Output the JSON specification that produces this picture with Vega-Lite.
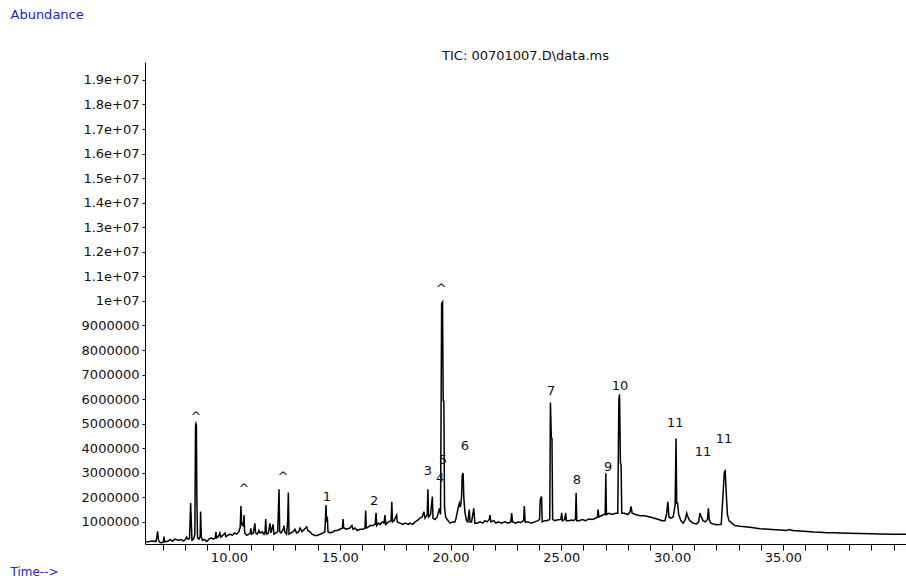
{
  "$schema": "https://vega.github.io/schema/vega-lite/v6.json",
  "width": 761,
  "height": 482,
  "autosize": {"type": "none"},
  "padding": {"left": 145, "top": 62, "right": 0, "bottom": 35},
  "background": "white",
  "config": {"view": {"stroke": null}, "font": "DejaVu Sans"},
  "title": {"text": "TIC: 00701007.D\\data.ms", "anchor": "middle", "frame": "group", "offset": 3, "dy": 58, "fontSize": 13, "fontWeight": "normal", "color": "#111", "font": "DejaVu Sans"},
  "datasets": {
    "tic": [
      {"time": 6.21, "abundance": 180000}, {"time": 6.40, "abundance": 200000}, {"time": 6.55, "abundance": 220000}, {"time": 6.70, "abundance": 200000},
      {"time": 6.74, "abundance": 350000}, {"time": 6.78, "abundance": 620000}, {"time": 6.82, "abundance": 250000}, {"time": 6.90, "abundance": 150000},
      {"time": 7.00, "abundance": 160000}, {"time": 7.04, "abundance": 200000}, {"time": 7.07, "abundance": 400000}, {"time": 7.10, "abundance": 180000},
      {"time": 7.25, "abundance": 220000}, {"time": 7.35, "abundance": 280000}, {"time": 7.45, "abundance": 220000}, {"time": 7.56, "abundance": 300000},
      {"time": 7.70, "abundance": 250000}, {"time": 7.85, "abundance": 280000}, {"time": 7.95, "abundance": 220000}, {"time": 8.05, "abundance": 300000},
      {"time": 8.09, "abundance": 380000}, {"time": 8.15, "abundance": 300000}, {"time": 8.22, "abundance": 320000}, {"time": 8.25, "abundance": 1200000},
      {"time": 8.27, "abundance": 1770000}, {"time": 8.30, "abundance": 1000000}, {"time": 8.33, "abundance": 250000}, {"time": 8.40, "abundance": 300000},
      {"time": 8.46, "abundance": 500000}, {"time": 8.49, "abundance": 4900000}, {"time": 8.51, "abundance": 5000000}, {"time": 8.53, "abundance": 4950000},
      {"time": 8.55, "abundance": 2000000}, {"time": 8.58, "abundance": 350000}, {"time": 8.65, "abundance": 300000}, {"time": 8.70, "abundance": 400000},
      {"time": 8.72, "abundance": 1420000}, {"time": 8.75, "abundance": 400000}, {"time": 8.80, "abundance": 250000}, {"time": 8.90, "abundance": 280000},
      {"time": 9.00, "abundance": 200000}, {"time": 9.10, "abundance": 300000}, {"time": 9.20, "abundance": 350000}, {"time": 9.30, "abundance": 300000},
      {"time": 9.38, "abundance": 350000}, {"time": 9.41, "abundance": 600000}, {"time": 9.44, "abundance": 350000}, {"time": 9.52, "abundance": 400000},
      {"time": 9.59, "abundance": 550000}, {"time": 9.63, "abundance": 380000}, {"time": 9.72, "abundance": 450000}, {"time": 9.82, "abundance": 550000},
      {"time": 9.86, "abundance": 400000}, {"time": 9.95, "abundance": 450000}, {"time": 10.05, "abundance": 500000}, {"time": 10.15, "abundance": 450000},
      {"time": 10.25, "abundance": 550000}, {"time": 10.35, "abundance": 500000}, {"time": 10.45, "abundance": 600000}, {"time": 10.51, "abundance": 800000},
      {"time": 10.54, "abundance": 1650000}, {"time": 10.57, "abundance": 900000}, {"time": 10.62, "abundance": 940000}, {"time": 10.65, "abundance": 800000},
      {"time": 10.68, "abundance": 1280000}, {"time": 10.71, "abundance": 550000}, {"time": 10.80, "abundance": 450000}, {"time": 10.90, "abundance": 500000},
      {"time": 10.96, "abundance": 550000}, {"time": 10.99, "abundance": 740000}, {"time": 11.02, "abundance": 500000}, {"time": 11.10, "abundance": 550000},
      {"time": 11.17, "abundance": 940000}, {"time": 11.20, "abundance": 550000}, {"time": 11.28, "abundance": 500000}, {"time": 11.35, "abundance": 650000},
      {"time": 11.40, "abundance": 550000}, {"time": 11.50, "abundance": 600000}, {"time": 11.58, "abundance": 500000}, {"time": 11.63, "abundance": 600000},
      {"time": 11.66, "abundance": 1120000}, {"time": 11.69, "abundance": 500000}, {"time": 11.78, "abundance": 550000}, {"time": 11.85, "abundance": 940000},
      {"time": 11.90, "abundance": 550000}, {"time": 11.99, "abundance": 900000}, {"time": 12.03, "abundance": 500000}, {"time": 12.12, "abundance": 550000},
      {"time": 12.20, "abundance": 600000}, {"time": 12.26, "abundance": 2330000}, {"time": 12.29, "abundance": 600000}, {"time": 12.35, "abundance": 550000},
      {"time": 12.45, "abundance": 700000}, {"time": 12.48, "abundance": 850000}, {"time": 12.52, "abundance": 600000}, {"time": 12.60, "abundance": 500000},
      {"time": 12.65, "abundance": 1000000}, {"time": 12.68, "abundance": 2200000}, {"time": 12.71, "abundance": 500000}, {"time": 12.80, "abundance": 550000},
      {"time": 12.90, "abundance": 600000}, {"time": 12.98, "abundance": 700000}, {"time": 13.05, "abundance": 550000}, {"time": 13.15, "abundance": 600000},
      {"time": 13.21, "abundance": 750000}, {"time": 13.30, "abundance": 600000}, {"time": 13.40, "abundance": 700000}, {"time": 13.51, "abundance": 800000},
      {"time": 13.56, "abundance": 650000}, {"time": 13.66, "abundance": 600000}, {"time": 13.75, "abundance": 500000}, {"time": 13.88, "abundance": 450000},
      {"time": 14.00, "abundance": 450000}, {"time": 14.11, "abundance": 500000}, {"time": 14.25, "abundance": 550000}, {"time": 14.33, "abundance": 600000},
      {"time": 14.38, "abundance": 1690000}, {"time": 14.41, "abundance": 1000000}, {"time": 14.44, "abundance": 1210000}, {"time": 14.47, "abundance": 600000},
      {"time": 14.56, "abundance": 550000}, {"time": 14.70, "abundance": 600000}, {"time": 14.79, "abundance": 650000}, {"time": 14.90, "abundance": 650000},
      {"time": 15.01, "abundance": 700000}, {"time": 15.12, "abundance": 750000}, {"time": 15.15, "abundance": 1120000}, {"time": 15.18, "abundance": 750000},
      {"time": 15.30, "abundance": 700000}, {"time": 15.46, "abundance": 750000}, {"time": 15.55, "abundance": 850000}, {"time": 15.60, "abundance": 700000},
      {"time": 15.69, "abundance": 750000}, {"time": 15.80, "abundance": 650000}, {"time": 15.91, "abundance": 700000}, {"time": 16.05, "abundance": 700000},
      {"time": 16.14, "abundance": 750000}, {"time": 16.17, "abundance": 1460000}, {"time": 16.20, "abundance": 750000}, {"time": 16.30, "abundance": 800000},
      {"time": 16.37, "abundance": 850000}, {"time": 16.50, "abundance": 850000}, {"time": 16.60, "abundance": 900000}, {"time": 16.64, "abundance": 1370000},
      {"time": 16.67, "abundance": 850000}, {"time": 16.75, "abundance": 950000}, {"time": 16.82, "abundance": 900000}, {"time": 16.92, "abundance": 1000000},
      {"time": 17.00, "abundance": 950000}, {"time": 17.04, "abundance": 1280000}, {"time": 17.08, "abundance": 900000}, {"time": 17.20, "abundance": 1000000},
      {"time": 17.32, "abundance": 1050000}, {"time": 17.35, "abundance": 1820000}, {"time": 17.38, "abundance": 1000000}, {"time": 17.45, "abundance": 1050000},
      {"time": 17.57, "abundance": 1280000}, {"time": 17.60, "abundance": 1000000}, {"time": 17.72, "abundance": 950000}, {"time": 17.85, "abundance": 900000},
      {"time": 17.95, "abundance": 950000}, {"time": 18.10, "abundance": 900000}, {"time": 18.17, "abundance": 950000}, {"time": 18.30, "abundance": 900000},
      {"time": 18.40, "abundance": 1000000}, {"time": 18.50, "abundance": 1050000}, {"time": 18.62, "abundance": 1150000}, {"time": 18.72, "abundance": 1200000},
      {"time": 18.80, "abundance": 1410000}, {"time": 18.85, "abundance": 1150000}, {"time": 18.95, "abundance": 1300000}, {"time": 18.98, "abundance": 2330000},
      {"time": 19.01, "abundance": 1200000}, {"time": 19.10, "abundance": 1300000}, {"time": 19.18, "abundance": 2030000}, {"time": 19.21, "abundance": 1150000},
      {"time": 19.30, "abundance": 1100000}, {"time": 19.40, "abundance": 1200000}, {"time": 19.50, "abundance": 1550000}, {"time": 19.55, "abundance": 1300000},
      {"time": 19.60, "abundance": 9900000}, {"time": 19.64, "abundance": 9960000}, {"time": 19.67, "abundance": 5950000}, {"time": 19.70, "abundance": 5900000},
      {"time": 19.73, "abundance": 1600000}, {"time": 19.78, "abundance": 1200000}, {"time": 19.85, "abundance": 1100000}, {"time": 19.98, "abundance": 950000},
      {"time": 20.10, "abundance": 1000000}, {"time": 20.20, "abundance": 1000000}, {"time": 20.25, "abundance": 1150000}, {"time": 20.34, "abundance": 1550000},
      {"time": 20.40, "abundance": 1760000}, {"time": 20.45, "abundance": 1600000}, {"time": 20.50, "abundance": 2030000}, {"time": 20.53, "abundance": 2900000},
      {"time": 20.57, "abundance": 2990000}, {"time": 20.60, "abundance": 2000000}, {"time": 20.65, "abundance": 1400000}, {"time": 20.72, "abundance": 1050000},
      {"time": 20.78, "abundance": 1000000}, {"time": 20.85, "abundance": 1500000}, {"time": 20.88, "abundance": 1000000}, {"time": 20.95, "abundance": 1000000},
      {"time": 21.05, "abundance": 1550000}, {"time": 21.10, "abundance": 950000}, {"time": 21.20, "abundance": 950000}, {"time": 21.33, "abundance": 1000000},
      {"time": 21.45, "abundance": 950000}, {"time": 21.55, "abundance": 1050000}, {"time": 21.65, "abundance": 1000000}, {"time": 21.75, "abundance": 1100000},
      {"time": 21.78, "abundance": 1280000}, {"time": 21.82, "abundance": 1000000}, {"time": 21.95, "abundance": 1050000}, {"time": 22.05, "abundance": 950000},
      {"time": 22.15, "abundance": 1000000}, {"time": 22.30, "abundance": 950000}, {"time": 22.45, "abundance": 1000000}, {"time": 22.60, "abundance": 950000},
      {"time": 22.72, "abundance": 1000000}, {"time": 22.76, "abundance": 1360000}, {"time": 22.80, "abundance": 1000000}, {"time": 22.95, "abundance": 950000},
      {"time": 23.05, "abundance": 1000000}, {"time": 23.15, "abundance": 970000}, {"time": 23.30, "abundance": 1050000}, {"time": 23.33, "abundance": 1650000},
      {"time": 23.37, "abundance": 1000000}, {"time": 23.50, "abundance": 1000000}, {"time": 23.65, "abundance": 950000}, {"time": 23.80, "abundance": 1000000},
      {"time": 23.95, "abundance": 1050000}, {"time": 24.02, "abundance": 1100000}, {"time": 24.05, "abundance": 1900000}, {"time": 24.11, "abundance": 2030000},
      {"time": 24.14, "abundance": 1000000}, {"time": 24.25, "abundance": 1050000}, {"time": 24.35, "abundance": 1050000}, {"time": 24.48, "abundance": 1100000},
      {"time": 24.51, "abundance": 5860000}, {"time": 24.55, "abundance": 4450000}, {"time": 24.58, "abundance": 4400000}, {"time": 24.61, "abundance": 1100000},
      {"time": 24.70, "abundance": 1050000}, {"time": 24.80, "abundance": 1080000}, {"time": 24.98, "abundance": 1100000}, {"time": 25.02, "abundance": 1370000},
      {"time": 25.05, "abundance": 1050000}, {"time": 25.15, "abundance": 1100000}, {"time": 25.20, "abundance": 1370000}, {"time": 25.23, "abundance": 1050000},
      {"time": 25.35, "abundance": 1050000}, {"time": 25.45, "abundance": 1080000}, {"time": 25.55, "abundance": 1050000}, {"time": 25.64, "abundance": 1100000},
      {"time": 25.67, "abundance": 2190000}, {"time": 25.70, "abundance": 1050000}, {"time": 25.80, "abundance": 1050000}, {"time": 25.95, "abundance": 1100000},
      {"time": 26.10, "abundance": 1050000}, {"time": 26.25, "abundance": 1120000}, {"time": 26.40, "abundance": 1100000}, {"time": 26.55, "abundance": 1150000},
      {"time": 26.63, "abundance": 1200000}, {"time": 26.66, "abundance": 1500000}, {"time": 26.70, "abundance": 1200000}, {"time": 26.80, "abundance": 1250000},
      {"time": 26.92, "abundance": 1300000}, {"time": 26.98, "abundance": 1300000}, {"time": 27.01, "abundance": 2980000}, {"time": 27.04, "abundance": 1300000},
      {"time": 27.15, "abundance": 1350000}, {"time": 27.30, "abundance": 1300000}, {"time": 27.45, "abundance": 1350000}, {"time": 27.55, "abundance": 1350000},
      {"time": 27.60, "abundance": 6000000}, {"time": 27.63, "abundance": 6190000}, {"time": 27.67, "abundance": 3410000}, {"time": 27.70, "abundance": 3300000},
      {"time": 27.73, "abundance": 1350000}, {"time": 27.85, "abundance": 1350000}, {"time": 28.00, "abundance": 1300000}, {"time": 28.10, "abundance": 1400000},
      {"time": 28.15, "abundance": 1630000}, {"time": 28.20, "abundance": 1350000}, {"time": 28.35, "abundance": 1300000}, {"time": 28.56, "abundance": 1250000},
      {"time": 28.75, "abundance": 1250000}, {"time": 29.01, "abundance": 1200000}, {"time": 29.20, "abundance": 1150000}, {"time": 29.40, "abundance": 1100000},
      {"time": 29.55, "abundance": 1050000}, {"time": 29.68, "abundance": 1050000}, {"time": 29.75, "abundance": 1300000}, {"time": 29.81, "abundance": 1820000},
      {"time": 29.86, "abundance": 1200000}, {"time": 29.95, "abundance": 1150000}, {"time": 30.05, "abundance": 1200000}, {"time": 30.14, "abundance": 1700000},
      {"time": 30.18, "abundance": 4400000}, {"time": 30.21, "abundance": 1760000}, {"time": 30.25, "abundance": 1760000}, {"time": 30.30, "abundance": 1300000},
      {"time": 30.40, "abundance": 1050000}, {"time": 30.50, "abundance": 950000}, {"time": 30.60, "abundance": 1100000}, {"time": 30.66, "abundance": 1360000},
      {"time": 30.72, "abundance": 1200000}, {"time": 30.80, "abundance": 1050000}, {"time": 30.95, "abundance": 950000}, {"time": 31.10, "abundance": 920000},
      {"time": 31.20, "abundance": 1000000}, {"time": 31.26, "abundance": 1360000}, {"time": 31.32, "abundance": 1200000}, {"time": 31.40, "abundance": 1050000},
      {"time": 31.50, "abundance": 1000000}, {"time": 31.60, "abundance": 1100000}, {"time": 31.64, "abundance": 1550000}, {"time": 31.68, "abundance": 1100000},
      {"time": 31.75, "abundance": 950000}, {"time": 31.90, "abundance": 900000}, {"time": 32.05, "abundance": 880000}, {"time": 32.22, "abundance": 900000},
      {"time": 32.30, "abundance": 2100000}, {"time": 32.36, "abundance": 3030000}, {"time": 32.40, "abundance": 3080000}, {"time": 32.45, "abundance": 2100000},
      {"time": 32.50, "abundance": 1300000}, {"time": 32.57, "abundance": 1050000}, {"time": 32.70, "abundance": 950000}, {"time": 32.84, "abundance": 850000},
      {"time": 33.05, "abundance": 820000}, {"time": 33.30, "abundance": 800000}, {"time": 33.50, "abundance": 780000}, {"time": 33.75, "abundance": 750000},
      {"time": 33.97, "abundance": 720000}, {"time": 34.20, "abundance": 710000}, {"time": 34.50, "abundance": 690000}, {"time": 34.88, "abundance": 670000},
      {"time": 35.15, "abundance": 650000}, {"time": 35.30, "abundance": 690000}, {"time": 35.45, "abundance": 650000}, {"time": 35.78, "abundance": 630000},
      {"time": 36.10, "abundance": 610000}, {"time": 36.40, "abundance": 590000}, {"time": 36.68, "abundance": 580000}, {"time": 37.00, "abundance": 560000},
      {"time": 37.30, "abundance": 560000}, {"time": 37.58, "abundance": 550000}, {"time": 38.00, "abundance": 540000}, {"time": 38.49, "abundance": 530000},
      {"time": 39.00, "abundance": 520000}, {"time": 39.39, "abundance": 510000}, {"time": 40.00, "abundance": 500000}, {"time": 40.56, "abundance": 500000}
    ],
    "peaks": [
      {"time": 8.51, "abundance": 5270000, "label": "^"},
      {"time": 10.68, "abundance": 2330000, "label": "^"},
      {"time": 12.44, "abundance": 2820000, "label": "^"},
      {"time": 19.58, "abundance": 10500000, "label": "^"},
      {"time": 14.42, "abundance": 2000000, "label": "1"},
      {"time": 16.55, "abundance": 1840000, "label": "2"},
      {"time": 18.98, "abundance": 3060000, "label": "3"},
      {"time": 19.53, "abundance": 2780000, "label": "4"},
      {"time": 19.66, "abundance": 3510000, "label": "5"},
      {"time": 20.65, "abundance": 4080000, "label": "6"},
      {"time": 24.54, "abundance": 6330000, "label": "7"},
      {"time": 25.71, "abundance": 2690000, "label": "8"},
      {"time": 27.11, "abundance": 3220000, "label": "9"},
      {"time": 27.65, "abundance": 6530000, "label": "10"},
      {"time": 30.14, "abundance": 5020000, "label": "11"},
      {"time": 31.40, "abundance": 3840000, "label": "11"},
      {"time": 32.35, "abundance": 4370000, "label": "11"}
    ]
  },
  "layer": [
    {
      "data": {"name": "tic"},
      "mark": {"type": "line", "color": "#000000", "strokeWidth": 1.5, "interpolate": "linear"},
      "encoding": {
        "x": {
          "field": "time", "type": "quantitative",
          "scale": {"domain": [6.21, 40.56], "nice": false, "zero": false},
          "axis": {
            "values": [7, 8, 9, 10, 11, 12, 13, 14, 15, 16, 17, 18, 19, 20, 21, 22, 23, 24, 25, 26, 27, 28, 29, 30, 31, 32, 33, 34, 35, 36, 37, 38, 39, 40],
            "tickCount": 100,
            "labelExpr": "(datum.value % 5 == 0 && datum.value <= 35) ? format(datum.value, '.2f') : ''",
            "labelOverlap": false,
            "grid": false, "domainColor": "#000", "domainWidth": 1, "tickColor": "#000", "tickSize": 6, "tickWidth": 1,
            "labelFont": "DejaVu Sans", "labelFontSize": 13, "labelColor": "#111", "labelPadding": 1,
            "title": "Time-->", "titleFont": "DejaVu Sans", "titleFontSize": 12, "titleFontWeight": "normal", "titleColor": "#2323c8",
            "titleX": -135, "titleY": 27, "titleAlign": "left", "titleBaseline": "middle", "titleAnchor": null
          }
        },
        "y": {
          "field": "abundance", "type": "quantitative",
          "scale": {"domain": [100000, 19730000], "nice": false, "zero": false},
          "axis": {
            "values": [1000000, 2000000, 3000000, 4000000, 5000000, 6000000, 7000000, 8000000, 9000000, 10000000, 11000000, 12000000, 13000000, 14000000, 15000000, 16000000, 17000000, 18000000, 19000000],
            "tickCount": 100,
            "labelExpr": "datum.value >= 10000000 ? (datum.value == 10000000 ? '1e+07' : format(datum.value / 10000000, '.1f') + 'e+07') : format(datum.value, 'd')",
            "labelOverlap": false,
            "grid": false, "domainColor": "#000", "domainWidth": 1, "tickColor": "#000", "tickSize": 3, "tickWidth": 1,
            "labelFont": "DejaVu Sans", "labelFontSize": 13, "labelColor": "#111", "labelPadding": 3,
            "title": "Abundance", "titleFont": "DejaVu Sans", "titleFontSize": 13, "titleFontWeight": "normal", "titleColor": "#2323c8",
            "titleAngle": 0, "titleX": -135, "titleY": -48, "titleAlign": "left", "titleBaseline": "middle", "titleAnchor": null
          }
        }
      }
    },
    {
      "data": {"name": "peaks"},
      "mark": {"type": "text", "font": "DejaVu Sans", "fontSize": 13, "color": "#111", "baseline": "middle", "align": "center"},
      "encoding": {
        "x": {"field": "time", "type": "quantitative"},
        "y": {"field": "abundance", "type": "quantitative"},
        "text": {"field": "label", "type": "nominal"}
      }
    }
  ]
}
